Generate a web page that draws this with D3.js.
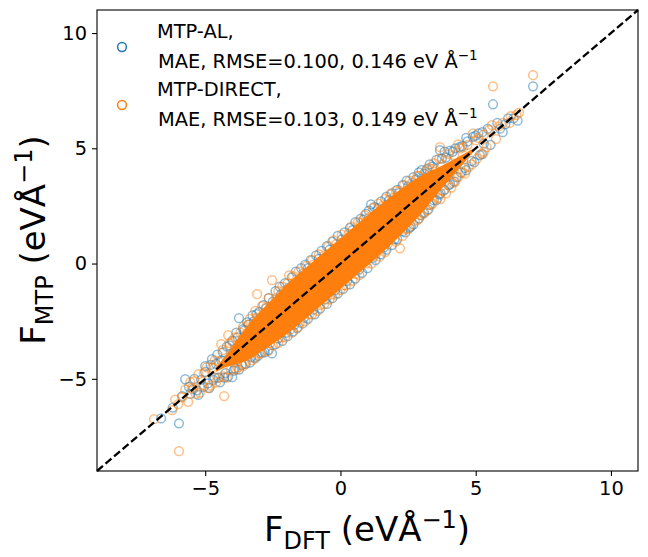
<!DOCTYPE html>
<html>
<head>
<meta charset="utf-8">
<script src="https://cdn.jsdelivr.net/npm/d3@7"></script>
<style>
	html, body { margin: 0; background: #fff; }
	text { font-family: "DejaVu Sans", sans-serif; fill: #000; }
</style>
</head>
<body>
<div id="chart"></div>
<script>
	'use strict';
	// values, eV/A
	var tickValues = [-5, 0, 5, 10];

	var alDft = [-6.63, -5.97, -6.2, -5.74, -5.55, -5.3, -5.15, -5.0, -4.9, -4.8, -4.7, -4.6, -4.5, -4.4, -4.3, -4.0, -4.1, -3.95, -3.8, -3.75, -3.65, -3.55, -3.4, -3.3, -3.2, -3.0, -2.9, -2.75, -2.53, -2.5, -2.3, -2.2, -2.0, -1.9, -1.7, -1.55, -1.35, -1.2, -1.0, -0.8, -0.55, -0.4, -0.2, 0.05, 0.25, 0.45, 0.7, 0.85, 1.13, 1.2, 1.4, 1.6, 1.8, 2.0, 2.15, 2.3, 2.5, 2.6, 2.8, 2.95, 3.1, 3.25, 3.4, 3.55, 3.68, 3.7, 3.9, 4.0, 4.15, 4.3, 4.4, 4.6, 4.7, 4.85, 5.0, 5.15, 5.3, 5.45, 5.55, 5.64, 5.9, 6.1, 6.4, 6.55, 7.12];
	var alMtp = [-6.72, -6.93, -6.25, -5.02, -5.65, -5.5, -5.05, -4.7, -5.2, -4.4, -5.05, -4.35, -4.95, -4.2, -4.95, -4.93, -3.55, -4.65, -3.2, -2.37, -4.4, -2.9, -2.65, -4.05, -2.5, -2.1, -3.85, -1.95, -3.9, -1.65, -3.25, -1.35, -3.0, -1.05, -2.65, -0.75, -2.35, -0.2, -2.0, 0.2, -1.55, 0.6, -1.15, 1.05, -0.75, 1.45, -0.25, 1.9, 2.57, 0.25, 2.4, 0.7, 2.75, 1.05, 3.05, 1.4, 3.35, 1.6, 3.65, 2.1, 3.9, 2.35, 4.2, 2.75, 4.92, 3.05, 4.6, 3.4, 4.85, 3.75, 5.05, 4.15, 5.3, 4.45, 5.55, 4.7, 5.2, 5.85, 5.15, 6.91, 5.85, 6.05, 6.3, 6.2, 7.69];

	var directDft = [-6.89, -6.11, -6.22, -5.97, -5.74, -5.63, -5.4, -5.2, -5.05, -4.9, -4.75, -4.6, -4.5, -4.3, -4.41, -4.2, -4.15, -4.0, -3.85, -3.7, -3.55, -3.4, -3.27, -3.1, -3.08, -2.95, -2.75, -2.6, -2.53, -2.4, -2.2, -2.1, -1.9, -1.85, -1.7, -1.5, -1.4, -1.15, -1.0, -0.75, -0.6, -0.35, -0.15, 0.1, 0.3, 0.55, 0.75, 0.95, 1.05, 1.3, 1.55, 1.75, 1.95, 2.2, 2.2, 2.4, 2.65, 2.75, 2.9, 3.05, 3.25, 3.35, 3.45, 3.6, 3.68, 3.8, 4.0, 4.1, 4.35, 4.25, 4.55, 4.5, 4.9, 4.75, 5.1, 5.2, 5.4, 5.5, 5.64, 5.75, 6.0, 6.3, 6.5, 7.12];
	var directMtp = [-6.75, -5.9, -6.36, -8.14, -5.47, -6.0, -5.1, -5.6, -4.75, -5.4, -4.5, -5.15, -4.25, -5.75, -3.5, -4.95, -3.11, -3.4, -4.6, -3.0, -4.35, -2.65, -4.2, -2.35, -1.33, -3.9, -1.9, -3.45, -0.72, -1.5, -3.2, -1.2, -0.51, -2.85, -0.85, -2.55, -0.45, -2.2, -0.05, -1.8, 0.35, -1.35, 0.85, -0.95, 1.3, -0.45, 1.75, 0, 2.0, 0.4, 2.5, 0.85, 2.85, 0.66, 3.15, 1.5, 3.5, 1.85, 3.8, 2.2, 4.15, 2.55, 4.35, 2.85, 5.05, 3.15, 4.75, 3.3, 5.17, 3.55, 5.05, 3.95, 5.65, 4.2, 5.45, 4.75, 5.05, 5.8, 7.69, 5.4, 6.1, 6.4, 6.45, 8.17];

	// rings along the rim of the cloud, [dft, mtp]
	var alEdgeUpper = [[-5.85, -5.75], [-5.6, -5.35], [-5.4, -5.0], [-5.0, -4.45], [-4.75, -4.15], [-4.55, -3.95], [-4.35, -3.85], [-4.2, -3.6], [-4.0, -3.35], [-3.85, -3.0], [-3.6, -2.85], [-3.45, -2.55], [-3.25, -2.25], [-3.1, -2.2], [-2.85, -1.8], [-2.65, -1.5], [-2.4, -1.2], [-2.25, -1.0], [-2.05, -0.85], [-1.8, -0.6], [-1.65, -0.35], [-1.45, -0.2], [-1.3, -0.05], [-1.1, 0.15], [-0.9, 0.35], [-0.7, 0.55], [-0.5, 0.75], [-0.3, 0.95], [-0.1, 1.2], [0.15, 1.35], [0.35, 1.55], [0.55, 1.8], [0.75, 1.95], [0.95, 2.15], [1.05, 2.3], [1.25, 2.45], [1.5, 2.7], [1.7, 2.9], [1.9, 3.05], [2.1, 3.2], [2.3, 3.4], [2.45, 3.6], [2.7, 3.75], [2.9, 3.95], [3.0, 4.05], [3.2, 4.1], [3.3, 4.3], [3.55, 4.5], [3.75, 4.55], [3.85, 4.85], [4.05, 4.9], [4.25, 5.0], [4.5, 5.1], [4.65, 5.45], [4.9, 5.5], [5.1, 5.65], [5.25, 5.7], [5.8, 6.1], [6.2, 6.3]];
	var alEdgeLower = [[-5.45, -5.45], [-5.25, -5.7], [-5.05, -5.35], [-4.85, -5.4], [-4.65, -4.95], [-4.45, -5.15], [-4.25, -4.75], [-4.15, -4.9], [-3.9, -4.55], [-3.75, -4.6], [-3.5, -4.35], [-3.35, -4.3], [-3.15, -4.1], [-3.05, -4.0], [-2.8, -3.85], [-2.65, -3.75], [-2.4, -3.5], [-2.15, -3.35], [-1.95, -3.15], [-1.75, -2.95], [-1.6, -2.8], [-1.4, -2.6], [-1.2, -2.4], [-0.95, -2.2], [-0.75, -1.95], [-0.5, -1.75], [-0.3, -1.5], [-0.1, -1.3], [0.1, -1.1], [0.35, -0.9], [0.55, -0.65], [0.8, -0.4], [1.0, -0.2], [1.3, 0.15], [1.5, 0.4], [1.7, 0.6], [1.9, 0.8], [2.1, 1.05], [2.4, 1.35], [2.55, 1.55], [2.7, 1.7], [2.9, 1.95], [3.1, 2.2], [3.3, 2.55], [3.45, 2.75], [3.65, 3.0], [3.85, 3.2], [4.05, 3.45], [4.2, 3.55], [4.45, 3.95], [4.65, 4.05], [4.95, 4.4], [5.25, 4.75], [6.0, 5.7]];
	var directEdgeUpper = [[-6.0, -6.1], [-5.85, -5.8], [-5.55, -5.15], [-5.25, -4.8], [-4.95, -4.5], [-4.65, -4.2], [-4.35, -3.75], [-4.1, -3.45], [-3.9, -3.2], [-3.6, -2.75], [-3.35, -2.4], [-3.15, -2.05], [-2.9, -1.85], [-2.65, -1.5], [-2.3, -1.2], [-2.15, -1.0], [-1.95, -0.85], [-1.75, -0.55], [-1.55, -0.35], [-1.25, -0.1], [-1.05, 0.15], [-0.8, 0.4], [-0.45, 0.75], [-0.25, 1.0], [0.05, 1.25], [0.4, 1.6], [0.65, 1.8], [0.9, 2.1], [1.2, 2.4], [1.4, 2.6], [1.65, 2.8], [1.85, 3.0], [2.05, 3.15], [2.35, 3.4], [2.55, 3.6], [2.85, 3.8], [3.15, 4.0], [3.4, 4.1], [3.65, 4.55], [3.75, 4.3], [3.95, 4.45], [4.2, 4.7], [4.45, 5.0], [4.7, 5.15], [5.0, 5.35], [5.3, 5.6], [5.6, 6.0], [5.85, 5.95], [6.6, 6.55]];
	var directEdgeLower = [[-5.5, -5.4], [-5.35, -5.65], [-5.1, -5.3], [-4.8, -5.3], [-4.55, -4.95], [-4.35, -4.9], [-4.05, -4.6], [-3.8, -4.5], [-3.6, -4.45], [-3.2, -4.1], [-3.0, -3.9], [-2.7, -3.8], [-2.5, -3.55], [-2.3, -3.45], [-2.05, -3.2], [-1.8, -3.0], [-1.55, -2.75], [-1.3, -2.5], [-1.05, -2.2], [-0.85, -2.05], [-0.6, -1.75], [-0.4, -1.55], [-0.2, -1.35], [0.0, -1.15], [0.2, -0.95], [0.45, -0.75], [0.7, -0.5], [1.15, 0.0], [1.45, 0.3], [1.65, 0.5], [2.05, 0.95], [2.3, 1.2], [2.5, 1.5], [2.85, 1.9], [3.0, 2.1], [3.2, 2.3], [3.4, 2.6], [3.7, 2.8], [3.9, 3.05], [4.15, 3.5], [4.35, 3.75], [4.6, 3.9], [4.85, 4.3], [5.05, 4.55], [5.3, 4.85], [6.25, 6.1]];

	// the middle of the cloud prints as solid orange, single points can't be read there
	var coreDft = [-4.6, -4.2, -3.8, -3.4, -3, -2.5, -2, -1, 0, 1, 2, 2.5, 3, 3.5, 4, 4.5, 4.9];
	var coreUpper = [-4.5, -3.92, -3.25, -2.63, -2.12, -1.52, -0.92, 0.1, 1.1, 2.1, 3.03, 3.45, 3.82, 4.1, 4.4, 4.72, 4.98];
	var coreLower = [-4.7, -4.48, -4.35, -4.17, -3.88, -3.48, -3.08, -2.1, -1.1, -0.1, 0.97, 1.55, 2.18, 2.9, 3.6, 4.28, 4.82];

	var width = 648,
		height = 557,
		margin = {top: 10, right: 10, bottom: 86, left: 97};

	var blue = '#1f77b4',
		orange = '#ff7f0e';

	var svg = d3.select('#chart')
		.append('svg')
		.attr('width', width)
		.attr('height', height);

	var x = d3.scaleLinear()
		.domain([-9, 11])
		.range([margin.left, width - margin.right]);
	var y = d3.scaleLinear()
		.domain([-9, 11])
		.range([height - margin.bottom, margin.top]);

	function drawPoints(points, color) {
		svg.append('g')
			.selectAll('circle')
			.data(points)
			.join('circle')
			.attr('cx', function (d) {
				return x(d[0]);
			})
			.attr('cy', function (d) {
				return y(d[1]);
			})
			.attr('r', 4.4)
			.attr('fill', 'none')
			.attr('stroke', color)
			.attr('stroke-opacity', 0.5)
			.attr('stroke-width', 1.5);
	}

	drawPoints(d3.zip(alDft, alMtp).concat(alEdgeUpper, alEdgeLower), blue);

	var core = d3.area()
		.curve(d3.curveCatmullRom)
		.x(function (d) {
			return x(d);
		})
		.y0(function (d, i) {
			return y(coreLower[i]);
		})
		.y1(function (d, i) {
			return y(coreUpper[i]);
		});

	svg.append('path')
		.datum(coreDft)
		.attr('fill', orange)
		.attr('d', core);

	drawPoints(d3.zip(directDft, directMtp).concat(directEdgeUpper, directEdgeLower), orange);

	// parity line
	svg.append('path')
		.datum([-9, 11])
		.attr('fill', 'none')
		.attr('stroke', '#000')
		.attr('stroke-width', 2.3)
		.attr('stroke-dasharray', '7.8,3.4')
		.attr('d', d3.line()
			.x(function (d) {
				return x(d);
			})
			.y(function (d) {
				return y(d);
			}));

	function styleAxis(g) {
		g.selectAll('.tick text')
			.attr('font-size', 19.4)
			.attr('font-family', '"DejaVu Sans", sans-serif');
		g.selectAll('.tick line').attr('stroke-width', 1.1);
		g.select('.domain').remove();
	}

	svg.append('g')
		.attr('transform', 'translate(0,' + (height - margin.bottom) + ')')
		.call(d3.axisBottom(x).tickValues(tickValues).tickSize(5).tickPadding(5))
		.call(styleAxis);
	svg.append('g')
		.attr('transform', 'translate(' + margin.left + ',0)')
		.call(d3.axisLeft(y).tickValues(tickValues).tickSize(5).tickPadding(5))
		.call(styleAxis);

	svg.append('rect')
		.attr('x', margin.left)
		.attr('y', margin.top)
		.attr('width', width - margin.left - margin.right)
		.attr('height', height - margin.top - margin.bottom)
		.attr('fill', 'none')
		.attr('stroke', '#000')
		.attr('stroke-width', 1.1);

	// label with a subscript and a superscript
	function axisLabel(g, sub) {
		var t = g.append('text')
			.attr('text-anchor', 'middle')
			.attr('font-size', 34);
		t.append('tspan').text('F');
		t.append('tspan').attr('font-size', 24).attr('dy', 8).text(sub);
		t.append('tspan').attr('dy', -8).text(' (eVÅ');
		t.append('tspan').attr('font-size', 24).attr('dy', -13).text('−1');
		t.append('tspan').attr('dy', 13).text(')');
	}

	axisLabel(svg.append('g').attr('transform', 'translate(367,541)'), 'DFT');
	axisLabel(svg.append('g').attr('transform', 'translate(45,240) rotate(-90)'), 'MTP');

	// legend, no frame
	var legendRows = [
		{name: 'MTP-AL,', stats: 'MAE, RMSE=0.100, 0.146 eV Å', color: blue, top: 38},
		{name: 'MTP-DIRECT,', stats: 'MAE, RMSE=0.103, 0.149 eV Å', color: orange, top: 96}
	];

	legendRows.forEach(function (row) {
		svg.append('circle')
			.attr('cx', 122)
			.attr('cy', row.top + 9)
			.attr('r', 4.4)
			.attr('fill', 'none')
			.attr('stroke', row.color)
			.attr('stroke-width', 1.5);
		svg.append('text')
			.attr('x', 157)
			.attr('y', row.top)
			.attr('font-size', 19.4)
			.text(row.name);
		var t = svg.append('text')
			.attr('x', 158)
			.attr('y', row.top + 30)
			.attr('font-size', 19.4);
		t.append('tspan').text(row.stats);
		t.append('tspan').attr('font-size', 13.6).attr('dy', -8).text('−1');
	});
</script>
</body>
</html>
